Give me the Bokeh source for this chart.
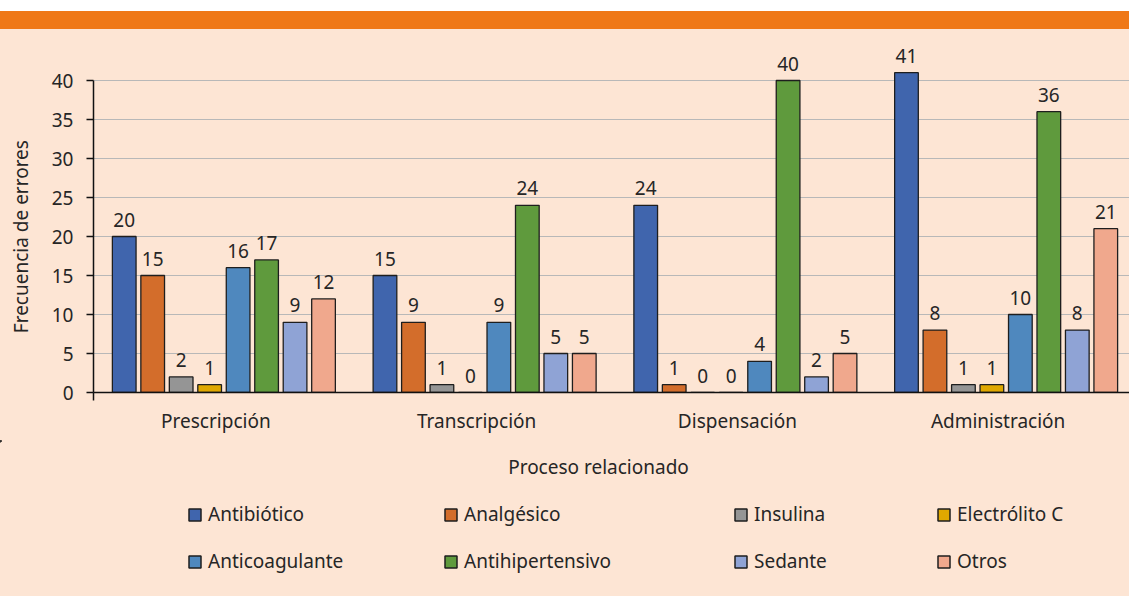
import math
from bokeh.plotting import figure
from bokeh.models import (Range1d, FixedTicker, Label, Legend, LegendItem,
                          ColumnDataSource, Div, Spacer)
from bokeh.layouts import column, row
from bokeh.embed import file_html
from bokeh.resources import INLINE

# ---------------- data ----------------
categories = ["Prescripción", "Transcripción", "Dispensación", "Administración"]
series = ["Antibiótico", "Analgésico", "Insulina", "Electrólito C",
          "Anticoagulante", "Antihipertensivo", "Sedante", "Otros"]
antibiotico = [20, 15, 24, 41]
analgesico = [15, 9, 1, 8]
insulina = [2, 1, 0, 1]
electrolito_c = [1, 0, 0, 1]
anticoagulante = [16, 9, 4, 10]
antihipertensivo = [17, 24, 40, 36]
sedante = [9, 5, 2, 8]
otros = [12, 5, 5, 21]
values = [antibiotico, analgesico, insulina, electrolito_c,
          anticoagulante, antihipertensivo, sedante, otros]
colors = ["#4065AD", "#D36D2B", "#959595", "#E0A800",
          "#4F88BE", "#5F9A3D", "#8FA3D5", "#F0A88D"]
y_ticks = [0, 5, 10, 15, 20, 25, 30, 35, 40]
x_title = "Proceso relacionado"
y_title = "Frecuencia de errores"

# ---------------- styling ----------------
FONT = "Noto Sans"
FS = "19px"
TXT = "#262626"
BG = "#FDE5D4"
ORANGE = "#EF7817"
EDGE = "#1E1E1E"

PX_UNIT_X = 261.0      # pixels per category
PX_UNIT_Y = 7.8        # pixels per y unit
FRAME_W = 1037
FRAME_H = 352
TITLE_W = 48
MAIN_H = 411
LEG_H = 156


def blank(fig):
    fig.background_fill_color = BG
    fig.border_fill_color = BG
    fig.outline_line_color = None
    fig.xgrid.visible = False
    fig.ygrid.visible = False


# ---------- y title strip ----------
pt = figure(width=TITLE_W, height=MAIN_H, x_range=Range1d(0, TITLE_W),
            y_range=Range1d(MAIN_H, 0), output_backend="svg",
            toolbar_location=None, x_axis_location=None, y_axis_location=None,
            min_border=0)
blank(pt)
pt.add_layout(Label(x=20, y=229, text=y_title, angle=math.pi / 2,
                    text_align="center", text_baseline="middle",
                    text_font=FONT, text_font_size=FS, text_color=TXT))

# ---------- main chart ----------
p = figure(width=1129 - TITLE_W, height=MAIN_H,
           x_range=Range1d(0, FRAME_W / PX_UNIT_X),
           y_range=Range1d(0, FRAME_H / PX_UNIT_Y),
           output_backend="svg", toolbar_location=None,
           min_border_left=92 - TITLE_W, min_border_right=0,
           min_border_top=11, min_border_bottom=MAIN_H - 11 - FRAME_H)
p.background_fill_color = BG
p.border_fill_color = BG
p.outline_line_color = None
p.xgrid.grid_line_color = None
p.ygrid.ticker = FixedTicker(ticks=y_ticks, minor_ticks=[])
p.ygrid.grid_line_color = "#B8B8B8"
p.ygrid.grid_line_width = 1.2

step = 28.5 / PX_UNIT_X
bar_w = 23.7 / PX_UNIT_X

for j, (name, vals, col) in enumerate(zip(series, values, colors)):
    xs = [i + 0.5 + (j - 3.5) * step for i in range(len(categories))]
    src = ColumnDataSource(dict(x=xs, top=vals, lab=[str(v) for v in vals]))
    p.vbar(x="x", top="top", width=bar_w, source=src,
           fill_color=col, line_color=EDGE, line_width=1.3)
    p.text(x="x", y="top", text="lab", source=src,
           text_align="center", text_baseline="alphabetic", y_offset=-17,
           text_font={"value": FONT}, text_font_size={"value": FS},
           text_color=TXT)

ya = p.yaxis[0]
ya.ticker = FixedTicker(ticks=y_ticks, minor_ticks=[])
ya.bounds = (0, 40)
ya.axis_line_color = "#111111"
ya.axis_line_width = 1.5
ya.major_tick_line_color = "#111111"
ya.major_tick_line_width = 1.5
ya.major_tick_out = 7
ya.major_tick_in = 0
ya.major_label_standoff = 13
ya.major_label_text_font = FONT
ya.major_label_text_font_size = FS
ya.major_label_text_color = TXT

xa = p.xaxis[0]
shift = 8.0 / PX_UNIT_X
tick_pos = [i + 0.5 - shift for i in range(len(categories))]
xa.ticker = FixedTicker(ticks=tick_pos, minor_ticks=[0])
xa.major_label_overrides = {t: c for t, c in zip(tick_pos, categories)}
xa.axis_line_color = "#111111"
xa.axis_line_width = 1.5
xa.major_tick_out = 0
xa.major_tick_in = 0
xa.minor_tick_out = 8
xa.minor_tick_in = 0
xa.minor_tick_line_color = "#111111"
xa.minor_tick_line_width = 1.5
xa.major_label_standoff = 7
xa.major_label_text_font = FONT
xa.major_label_text_font_size = FS
xa.major_label_text_color = TXT

# ---------- legend + x title strip ----------
pl = figure(width=1129, height=LEG_H, x_range=Range1d(0, 1129),
            y_range=Range1d(LEG_H, 0), output_backend="svg",
            toolbar_location=None, x_axis_location=None, y_axis_location=None,
            min_border=0)
blank(pl)
pl.add_layout(Label(x=598, y=466 - 440, text=x_title, text_align="center",
                    text_baseline="middle", text_font=FONT, text_font_size=FS,
                    text_color=TXT))

leg_renderers = []
for name, col in zip(series, colors):
    # hidden swatch source (outside the visible range) used only by the legend
    r = pl.vbar(x=[-500], top=[1], bottom=[0], width=1, fill_color=col,
                line_color=EDGE, line_width=1.5)
    leg_renderers.append(r)

col_x = [187, 443, 733, 936]
for c in range(4):
    items = [LegendItem(label=series[c], renderers=[leg_renderers[c]]),
             LegendItem(label=series[c + 4], renderers=[leg_renderers[c + 4]])]
    lg = Legend(items=items, location=(col_x[c], 22), orientation="vertical",
                glyph_width=15, glyph_height=15, label_height=15,
                label_standoff=6, spacing=21, padding=0, margin=0,
                border_line_color=None, background_fill_alpha=0,
                label_text_font=FONT, label_text_font_size=FS,
                label_text_color=TXT)
    pl.add_layout(lg)

band = Div(text="", width=1129, height=18, margin=0,
           styles={"background-color": ORANGE})
body = column(row(pt, p, spacing=0), pl, spacing=0,
              styles={"background-color": BG})
layout = column(Spacer(height=11, width=1129, margin=0), band, body, spacing=0)

open("out.html", "w").write(file_html(layout, INLINE))
